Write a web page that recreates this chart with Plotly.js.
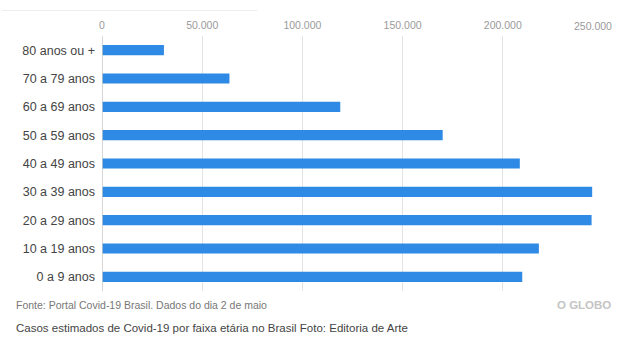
<!DOCTYPE html>
<html><head><meta charset="utf-8">
<script src="https://cdn.plot.ly/plotly-3.0.1.min.js"></script>
<style>html,body{margin:0;padding:0;background:#fff;}#chart{width:617px;height:337px;}</style>
</head><body><div id="chart"></div>
<script>
const categories = ["0 a 9 anos","10 a 19 anos","20 a 29 anos","30 a 39 anos","40 a 49 anos","50 a 59 anos","60 a 69 anos","70 a 79 anos","80 anos ou +"];
const casos = [209700, 218000, 244300, 244600, 208500, 170000, 118900, 63600, 30900];
const tickVals = [0, 50000, 100000, 150000, 200000, 250000];
const tickText = ["0", "50.000", "100.000", "150.000", "200.000", "250.000"];
const fonte = "Fonte: Portal Covid-19 Brasil. Dados do dia 2 de maio";
const legenda = "Casos estimados de Covid-19 por faixa etária no Brasil Foto: Editoria de Arte";
const marca = "O GLOBO";

const lastIdx = tickVals.length - 1;
const trace = {
  type: 'bar', orientation: 'h',
  x: casos, y: categories,
  marker: {color: '#2e8ae4'},
  hoverinfo: 'none'
};
const layout = {
  width: 617, height: 337,
  margin: {l: 102, r: 14, t: 36, b: 46},
  paper_bgcolor: '#fff', plot_bgcolor: '#fff',
  font: {family: 'Liberation Sans, Arial, sans-serif'},
  bargap: 0.64,
  showlegend: false,
  xaxis: {
    side: 'top', range: [0, 250000], tickvals: tickVals,
    ticktext: tickText.map((t, i) => i === lastIdx ? '' : t),
    showgrid: true, gridcolor: '#e3e3e3', gridwidth: 1,
    zeroline: false, showline: false, ticks: '',
    tickfont: {size: 10.5, color: '#9a9a9a'}, ticklabelstandoff: 4,
    fixedrange: true
  },
  yaxis: {
    categoryorder: 'array', categoryarray: categories,
    range: [-0.5, 8.5],
    showgrid: false, zeroline: false, showline: false, ticks: '',
    tickfont: {size: 12.5, color: '#444'}, ticklabelstandoff: 6,
    fixedrange: true
  },
  shapes: [
    {type: 'line', xref: 'x', yref: 'paper', x0: 0, x1: 0, y0: 0, y1: 1, line: {color: '#c8c8c8', width: 1.5}},
    {type: 'line', xref: 'paper', yref: 'paper', x0: -0.2, x1: 0.31, y0: 1.1, y1: 1.1, line: {color: '#eeeeee', width: 1}}
  ],
  annotations: [
    {text: tickText[lastIdx], xref: 'x', yref: 'paper', x: tickVals[lastIdx], y: 1, xanchor: 'center', yanchor: 'bottom', yshift: 2.5, xshift: -10, showarrow: false, font: {size: 10.5, color: '#9a9a9a'}},
    {text: fonte, xref: 'paper', yref: 'paper', x: -0.1756, y: -0.025, xanchor: 'left', yanchor: 'top', showarrow: false, font: {size: 10.5, color: '#777'}},
    {text: '<b>' + marca + '</b>', xref: 'paper', yref: 'paper', x: 1.02, y: -0.025, xanchor: 'right', yanchor: 'top', showarrow: false, font: {size: 11.5, color: '#c4c4c4'}},
    {text: legenda, xref: 'paper', yref: 'paper', x: -0.1756, y: -0.115, xanchor: 'left', yanchor: 'top', showarrow: false, font: {size: 11.5, color: '#444'}}
  ]
};
Plotly.newPlot('chart', [trace], layout, {displayModeBar: false, staticPlot: true});
</script></body></html>
